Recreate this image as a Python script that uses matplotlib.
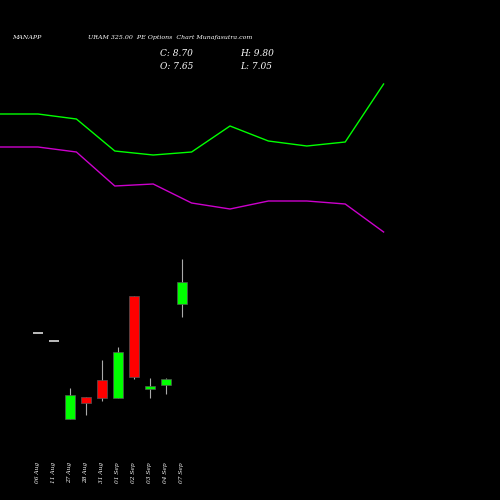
import matplotlib
matplotlib.use("Agg")
import matplotlib.pyplot as plt

# candle data
dates = ["06 Aug", "11 Aug", "27 Aug", "28 Aug", "31 Aug", "01 Sep", "02 Sep", "03 Sep", "04 Sep", "07 Sep"]
opens = [6.27, 5.89, 2.16, 3.21, 4.02, 3.16, 8.02, 3.62, 3.80, 7.65]
closes = [6.27, 5.89, 3.32, 2.94, 3.16, 5.35, 4.17, 3.73, 4.10, 8.70]
highs = [6.27, 5.89, 3.65, 3.21, 4.99, 5.59, 8.02, 4.13, 4.13, 9.80]
lows = [6.27, 5.89, 2.16, 2.37, 3.05, 3.16, 4.07, 3.19, 3.37, 7.05]

# indicator lines (separate scale)
line_x = [-2.4, 0.0, 2.4, 4.8, 7.2, 9.6, 12.0, 14.4, 16.8, 19.2, 21.6]
green_line = [114, 114, 119, 151, 155, 152, 126, 141, 146, 142, 84]
purple_line = [147, 147, 152, 186, 184, 203, 209, 201, 201, 204, 232]

fig = plt.figure(figsize=(5, 5), dpi=100, facecolor="black")
ax = fig.add_axes([0, 0, 1, 1], facecolor="black")
ax.set_xlim(-2.375, 28.875)
ax.set_ylim(-1.68, 22.13)
ax.axis("off")

for i in range(len(dates)):
    o, c, h, l = opens[i], closes[i], highs[i], lows[i]
    ax.text(i, -0.87, dates[i], rotation=90, color="white", fontsize=4.2,
            fontstyle="italic", family="DejaVu Serif", ha="center", va="bottom")
    ax.vlines(i, l, h, color="#aaaaaa", lw=0.8, zorder=1)
    if o == c:
        ax.hlines(o, i - 0.3, i + 0.3, color="#dddddd", lw=1.2, zorder=2)
        continue
    col = "#00ff00" if c > o else "#ff0000"
    ax.bar(i, abs(c - o), bottom=min(o, c), width=0.6, color=col,
           edgecolor="#555555", lw=0.5, zorder=2)

ax2 = ax.twinx()
ax2.set_ylim(500, 0)
ax2.axis("off")
ax2.plot(line_x, green_line, color="#00ff00", lw=1)
ax2.plot(line_x, purple_line, color="#cc00cc", lw=1)

fig.text(0.024, 0.922, "MANAPP", color="white", fontsize=4.5, fontstyle="italic", family="DejaVu Serif")
fig.text(0.176, 0.922, "URAM 325.00  PE Options  Chart Munafasutra.com", color="white",
         fontsize=4.5, fontstyle="italic", family="DejaVu Serif")
fig.text(0.32, 0.887, "C: 8.70", color="white", fontsize=6.5, family="DejaVu Serif", fontstyle="italic")
fig.text(0.32, 0.862, "O: 7.65", color="white", fontsize=6.5, family="DejaVu Serif", fontstyle="italic")
fig.text(0.48, 0.887, "H: 9.80", color="white", fontsize=6.5, family="DejaVu Serif", fontstyle="italic")
fig.text(0.48, 0.862, "L: 7.05", color="white", fontsize=6.5, family="DejaVu Serif", fontstyle="italic")

fig.savefig("out.png", facecolor="black")
